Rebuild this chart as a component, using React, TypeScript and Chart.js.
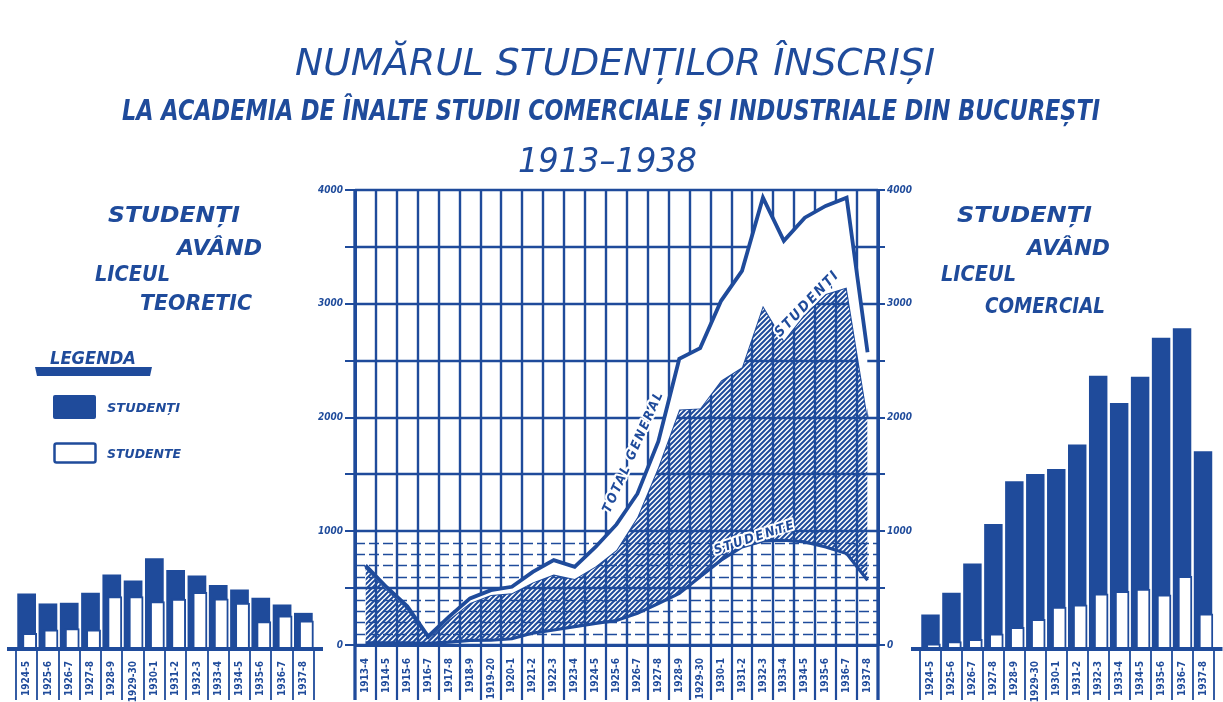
import React, { useEffect, useRef } from "react";
import { Chart, registerables } from "chart.js";

Chart.register(...registerables);

const BLUE = "#1f4b9b";
const FONT = '"DejaVu Sans Condensed", "DejaVu Sans", sans-serif';

// ---- middle chart data ----
const MID_LABELS = [
  "1913-4", "1914-5", "1915-6", "1916-7", "1917-8", "1918-9", "1919-20", "1920-1", "1921-2",
  "1922-3", "1923-4", "1924-5", "1925-6", "1926-7", "1927-8", "1928-9", "1929-30", "1930-1",
  "1931-2", "1932-3", "1933-4", "1934-5", "1935-6", "1936-7", "1937-8",
];
const TOTAL_GENERAL = [700, 510, 340, 75, 250, 410, 482, 512, 643, 746, 687, 862, 1060, 1330, 1790, 2515, 2610, 3026, 3289, 3933, 3553, 3757, 3860, 3933, 2573];
const STUDENTI = [680, 490, 320, 60, 225, 370, 440, 455, 550, 620, 580, 690, 835, 1126, 1564, 2070, 2080, 2325, 2441, 2982, 2675, 2909, 3085, 3143, 2003];
const STUDENTE = [20, 20, 20, 15, 25, 40, 42, 55, 105, 132, 161, 190, 215, 278, 365, 453, 599, 746, 862, 915, 921, 906, 862, 804, 570];

const Y_MAJOR = [0, 500, 1000, 1500, 2000, 2500, 3000, 3500, 4000];
const Y_MINOR = [100, 200, 300, 400, 600, 700, 800, 900];

// ---- side charts data ----
const SIDE_LABELS = ["1924-5", "1925-6", "1926-7", "1927-8", "1928-9", "1929-30", "1930-1", "1931-2", "1932-3", "1933-4", "1934-5", "1935-6", "1936-7", "1937-8"];
const TEORETIC_STUDENTI = [476, 389, 395, 482, 643, 590, 783, 681, 634, 550, 512, 439, 380, 307];
const TEORETIC_STUDENTE = [132, 161, 173, 161, 453, 453, 409, 430, 488, 433, 395, 234, 284, 240];
const COMERCIAL_STUDENTI = [292, 482, 737, 1082, 1456, 1520, 1564, 1778, 2377, 2140, 2368, 2710, 2792, 1719];
const COMERCIAL_STUDENTE = [40, 58, 79, 126, 184, 254, 360, 380, 476, 497, 517, 468, 629, 301];

// labels written along the lines: [text, category index, value, angle, font size]
const LINE_LABELS: [string, number, number, number, number][] = [
  ["TOTAL GENERAL", 12.82, 1700, -66, 13],
  ["STUDENȚI", 21.13, 3000, -46, 14],
  ["STUDENTE", 18.62, 943, -18, 13],
];

function stroke(ctx: CanvasRenderingContext2D, x1: number, y1: number, x2: number, y2: number) {
  ctx.beginPath();
  ctx.moveTo(x1, y1);
  ctx.lineTo(x2, y2);
  ctx.stroke();
}

const midPlugin = {
  id: "midGrid",
  beforeDatasetsDraw(chart: any) {
    const { ctx, chartArea: a, scales } = chart;
    const x = scales.x;
    const y = scales.y;
    ctx.save();
    ctx.strokeStyle = BLUE;
    ctx.lineWidth = 1.6;
    ctx.setLineDash([10, 4]);
    Y_MINOR.forEach((v) => {
      const py = Math.round(y.getPixelForValue(v)) + 0.5;
      stroke(ctx, a.left, py, a.right, py);
    });
    ctx.setLineDash([]);
    ctx.lineWidth = 2.6;
    Y_MAJOR.forEach((v) => {
      const py = Math.round(y.getPixelForValue(v));
      stroke(ctx, a.left, py, a.right, py);
    });
    const n = chart.data.labels.length;
    ctx.lineWidth = 2.4;
    for (let i = 0; i <= n; i++) {
      const px = Math.round(x.getPixelForValue(i - 0.5));
      stroke(ctx, px, a.top, px, a.bottom);
    }
    ctx.restore();
  },
  afterDraw(chart: any) {
    const { ctx, chartArea: a, scales } = chart;
    const x = scales.x;
    const y = scales.y;
    ctx.save();
    ctx.strokeStyle = BLUE;
    const n = chart.data.labels.length;
    ctx.lineWidth = 2.2;
    for (let i = 0; i <= n; i++) {
      const px = Math.round(x.getPixelForValue(i - 0.5));
      stroke(ctx, px, a.bottom, px, chart.height - 2);
    }
    ctx.lineWidth = 3.2;
    stroke(ctx, a.left, a.top, a.left, chart.height - 2);
    stroke(ctx, a.right, a.top, a.right, chart.height - 2);
    // labels along lines
    LINE_LABELS.forEach(([text, xi, v, ang, size]) => {
      const cx = x.getPixelForValue(xi);
      const cy = y.getPixelForValue(v);
      ctx.save();
      ctx.translate(cx, cy);
      ctx.rotate((ang * Math.PI) / 180);
      ctx.font = `italic bold ${size}px ${FONT}`;
      (ctx as any).letterSpacing = "2px";
      ctx.textAlign = "center";
      ctx.textBaseline = "middle";
      ctx.lineJoin = "round";
      ctx.lineWidth = 4;
      ctx.strokeStyle = "#fff";
      ctx.strokeText(text, 0, 0);
      ctx.fillStyle = BLUE;
      ctx.fillText(text, 0, 0);
      ctx.restore();
    });
    ctx.restore();
  },
};

const sidePlugin = {
  id: "sideDecor",
  afterDatasetsUpdate(chart: any) {
    const meta = chart.getDatasetMeta(0);
    meta.data.forEach((b: any) => {
      b.x += b.width * 0.2;
    });
  },
  afterDraw(chart: any) {
    const { ctx, chartArea: a, scales } = chart;
    const x = scales.x;
    const y = scales.y;
    const base = y.getPixelForValue(0);
    ctx.save();
    ctx.strokeStyle = BLUE;
    ctx.lineWidth = 1.8;
    const n = chart.data.labels.length;
    for (let i = 0; i <= n; i++) {
      const px = Math.round(x.getPixelForValue(i - 0.5));
      stroke(ctx, px, base, px, chart.height - 2);
    }
    ctx.lineWidth = 4;
    stroke(ctx, Math.max(0, a.left - 9), base + 1, Math.min(chart.width, a.right + 9), base + 1);
    ctx.restore();
  },
};

function tickFont(size: number, style = "normal") {
  return { family: FONT, size, weight: "bold" as const, style: style as any };
}

function sideConfig(studenti: number[], studente: number[], padL: number, padR: number): any {
  return {
    type: "bar",
    data: {
      labels: SIDE_LABELS,
      datasets: [
        {
          label: "Studente",
          data: studente,
          backgroundColor: "#ffffff",
          borderColor: BLUE,
          borderWidth: 2,
          barPercentage: 0.7,
          categoryPercentage: 1,
          grouped: false,
          order: 0,
        },
        {
          label: "Studenți",
          data: studenti,
          backgroundColor: BLUE,
          borderWidth: 0,
          barPercentage: 0.88,
          categoryPercentage: 1,
          grouped: false,
          order: 1,
        },
      ],
    },
    options: {
      responsive: false,
      animation: false,
      devicePixelRatio: 1,
      layout: { padding: { left: padL, right: padR, top: 10, bottom: 0 } },
      plugins: { legend: { display: false }, tooltip: { enabled: false } },
      scales: {
        x: {
          offset: true,
          grid: { display: false },
          border: { display: false },
          ticks: {
            color: BLUE,
            font: tickFont(10),
            minRotation: 90,
            maxRotation: 90,
            autoSkip: false,
            padding: 5,
          },
          afterFit: (s: any) => {
            s.height = 54;
          },
        },
        y: { display: false, min: 0, max: 4000 },
      },
    },
    plugins: [sidePlugin],
  };
}

function makeHatch(ctx: CanvasRenderingContext2D) {
  const c = document.createElement("canvas");
  const s = 5;
  c.width = s;
  c.height = s;
  const g = c.getContext("2d")!;
  g.strokeStyle = BLUE;
  g.lineWidth = 2;
  g.beginPath();
  g.moveTo(-1, s + 1);
  g.lineTo(s + 1, -1);
  g.moveTo(-2, 2);
  g.lineTo(2, -2);
  g.moveTo(s - 2, s + 2);
  g.lineTo(s + 2, s - 2);
  g.stroke();
  return ctx.createPattern(c, "repeat");
}

function yAxis(position: "left" | "right", width: number, tickLength: number): any {
  return {
    position,
    min: 0,
    max: 4000,
    afterBuildTicks: (s: any) => {
      s.ticks = Y_MAJOR.map((v) => ({ value: v }));
    },
    ticks: {
      color: BLUE,
      font: tickFont(10, "italic"),
      padding: 2,
      callback: (v: any) => (Number(v) % 1000 === 0 ? String(v) : ""),
    },
    grid: { drawOnChartArea: false, color: BLUE, lineWidth: 2, tickLength },
    border: { color: BLUE, width: 3 },
    afterFit: (s: any) => {
      s.width = width;
    },
  };
}

export default function App() {
  const midRef = useRef<HTMLCanvasElement>(null);
  const leftRef = useRef<HTMLCanvasElement>(null);
  const rightRef = useRef<HTMLCanvasElement>(null);

  useEffect(() => {
    const charts: Chart[] = [];
    const mc = midRef.current!;
    const hatch = makeHatch(mc.getContext("2d")!);
    charts.push(
      new Chart(mc, {
        type: "line",
        data: {
          labels: MID_LABELS,
          datasets: [
            {
              label: "Total general",
              data: TOTAL_GENERAL,
              borderColor: BLUE,
              borderWidth: 3.8,
              backgroundColor: "#ffffff",
              fill: "+1",
              pointRadius: 0,
              tension: 0,
            },
            {
              label: "Studenți",
              data: STUDENTI,
              borderColor: BLUE,
              borderWidth: 2,
              backgroundColor: hatch as any,
              fill: "+1",
              pointRadius: 0,
              tension: 0,
            },
            {
              label: "Studente",
              data: STUDENTE,
              borderColor: BLUE,
              borderWidth: 3.2,
              fill: false,
              pointRadius: 0,
              tension: 0,
            },
          ],
        },
        options: {
          responsive: false,
          animation: false,
          devicePixelRatio: 1,
          layout: { padding: { top: 10, left: 0, right: 0, bottom: 0 } },
          plugins: { legend: { display: false }, tooltip: { enabled: false } },
          scales: {
            x: {
              offset: true,
              grid: { display: false },
              border: { color: BLUE, width: 3 },
              ticks: {
                color: BLUE,
                font: tickFont(10),
                minRotation: 90,
                maxRotation: 90,
                autoSkip: false,
                padding: 5,
              },
              afterFit: (s: any) => {
                s.height = 57;
              },
            },
            y: yAxis("left", 55, 10),
            y2: yAxis("right", 42, 7),
          },
        } as any,
        plugins: [midPlugin],
      })
    );
    charts.push(new Chart(leftRef.current!, sideConfig(TEORETIC_STUDENTI, TEORETIC_STUDENTE, 16, 16)));
    charts.push(new Chart(rightRef.current!, sideConfig(COMERCIAL_STUDENTI, COMERCIAL_STUDENTE, 20, 9.5)));
    return () => charts.forEach((c) => c.destroy());
  }, []);

  const t = (
    x: number,
    y: number,
    len: number,
    size: number,
    text: string,
    weight: string | number = "bold"
  ) => (
    <text
      x={x}
      y={y}
      textLength={len}
      lengthAdjust="spacingAndGlyphs"
      fontSize={size}
      fontWeight={weight}
      fontStyle="italic"
      fontFamily='"DejaVu Sans", sans-serif'
      fill={BLUE}
    >
      {text}
    </text>
  );

  return (
    <div style={{ position: "absolute", left: 0, top: 0, width: 1223, height: 702, background: "#fff", overflow: "hidden" }}>
      <canvas ref={leftRef} width={330} height={522} style={{ position: "absolute", left: 0, top: 180 }} />
      <canvas ref={midRef} width={620} height={522} style={{ position: "absolute", left: 300, top: 180 }} />
      <canvas ref={rightRef} width={323} height={522} style={{ position: "absolute", left: 900, top: 180 }} />
      <svg width={1223} height={702} style={{ position: "absolute", left: 0, top: 0, pointerEvents: "none" }}>
        {t(295, 75, 640, 38, "NUMĂRUL STUDENȚILOR ÎNSCRIȘI", "normal")}
        {t(122, 120, 978, 29, "LA ACADEMIA DE ÎNALTE STUDII COMERCIALE ȘI INDUSTRIALE DIN BUCUREȘTI")}
        {t(518, 172, 179, 33, "1913–1938", "normal")}

        {t(108, 222, 132, 22, "STUDENȚI")}
        {t(177, 255, 85, 22, "AVÂND")}
        {t(95, 281, 75, 22, "LICEUL")}
        {t(140, 310, 112, 22, "TEORETIC")}

        {t(957, 222, 135, 22, "STUDENȚI")}
        {t(1027, 255, 83, 22, "AVÂND")}
        {t(941, 281, 75, 22, "LICEUL")}
        {t(985, 313, 120, 22, "COMERCIAL")}

        {t(50, 364, 86, 17, "LEGENDA")}
        <polygon points="35,367 152,367 150,376 37,376" fill={BLUE} />
        <rect x={53} y={395} width={43} height={24} rx={2} fill={BLUE} />
        {t(107, 412, 73, 13, "STUDENȚI")}
        <rect x={54.5} y={443.5} width={41} height={19} rx={2} fill="#fff" stroke={BLUE} strokeWidth={2.5} />
        {t(107, 458, 74, 13, "STUDENTE")}
      </svg>
    </div>
  );
}
